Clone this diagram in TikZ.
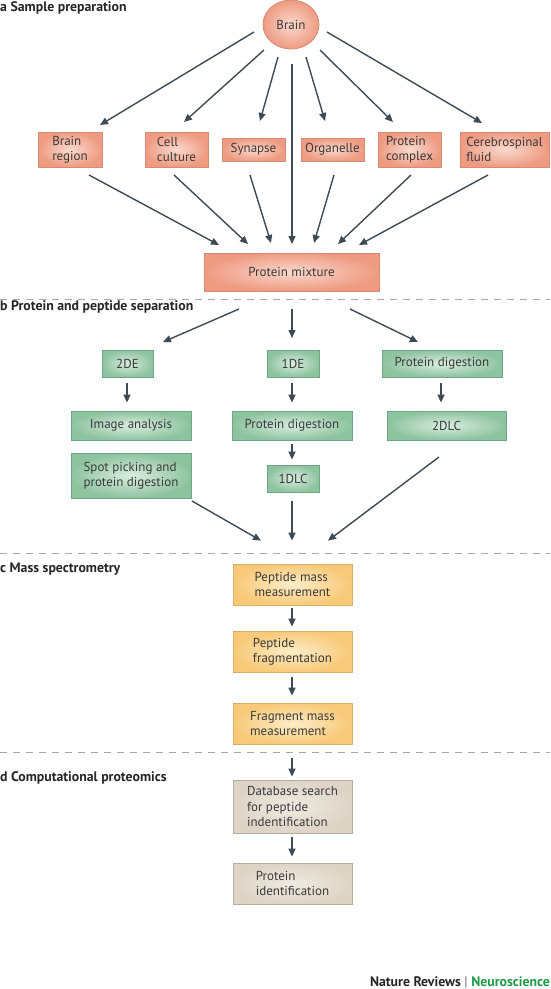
\documentclass[tikz,border=0pt]{standalone}
\usepackage{fontspec}
\setmainfont{PT Sans}
\usetikzlibrary{calc,arrows.meta,shapes.geometric}
\definecolor{arrc}{HTML}{3E4A54}
\definecolor{txtc}{HTML}{3A3A3A}
\definecolor{salO}{HTML}{EE9B82}
\definecolor{salI}{HTML}{FAD9CC}
\definecolor{salB}{HTML}{D88A72}
\definecolor{grnO}{HTML}{8EC3A0}
\definecolor{grnI}{HTML}{D8EDDF}
\definecolor{grnB}{HTML}{6FA585}
\definecolor{ylwO}{HTML}{F8C978}
\definecolor{ylwI}{HTML}{FDEDC8}
\definecolor{ylwB}{HTML}{D8AE68}
\definecolor{gryO}{HTML}{DDD4C6}
\definecolor{gryI}{HTML}{EFEAE2}
\definecolor{gryB}{HTML}{B5ACA0}
\definecolor{dashc}{HTML}{A8A8A8}
\definecolor{nrgreen}{HTML}{1E9B4A}
\tikzset{
  x=1pt,y=-1pt,
  box/.style={rectangle,inner sep=0pt,align=left,text=txtc,
    font=\fontsize{13}{15.3}\selectfont,line width=0.8pt},
  salbox/.style={box,draw=salB,shading=radial,inner color=salI,outer color=salO},
  grnbox/.style={box,draw=grnB,shading=radial,inner color=grnI,outer color=grnO},
  ylwbox/.style={box,draw=ylwB,shading=radial,inner color=ylwI,outer color=ylwO},
  grybox/.style={box,draw=gryB,shading=radial,inner color=gryI,outer color=gryO},
  arr/.style={draw=arrc,line width=1.4pt,-{Triangle[length=8pt,width=7pt]}},
  sep/.style={draw=dashc,line width=0.8pt,dash pattern=on 7pt off 6pt},
  ttl/.style={anchor=west,inner sep=0pt,text=black!85,font=\fontsize{13.8}{16}\selectfont\bfseries},
}
\begin{document}
\begin{tikzpicture}
\useasboundingbox (0,0) rectangle (550,989);
% separators
\coordinate (s1l) at (0,299); \coordinate (s1r) at (550,299);
\coordinate (s2l) at (0,553); \coordinate (s2r) at (550,553);
\coordinate (s3l) at (0,752); \coordinate (s3r) at (550,752);
\draw[sep] (s1l) -- (s1r);
\draw[sep] (s2l) -- (s2r);
\draw[sep] (s3l) -- (s3r);
% titles
\node[ttl] (ta) at (0,7.5) {a Sample preparation};
\node[ttl] (tb) at (0,307) {b Protein and peptide separation};
\node[ttl] (tc) at (0,569) {c Mass spectrometry};
\node[ttl] (td) at (0,778) {d Computational proteomics};
% section a
\node[salbox,ellipse,minimum width=56pt,minimum height=49pt] (brain) at (291,24.5) {Brain};
\node[salbox,minimum width=64pt,minimum height=35pt] (bregion) at (70,149.5) {Brain\\region};
\node[salbox,minimum width=63pt,minimum height=35pt] (cellc) at (176.5,149.5) {Cell\\culture};
\node[salbox,minimum width=63pt,minimum height=23pt] (syn) at (253.5,149.5) {Synapse};
\node[salbox,minimum width=63pt,minimum height=23pt] (org) at (332.5,149.5) {Organelle};
\node[salbox,minimum width=63pt,minimum height=35pt] (pcomp) at (409.5,149.5) {Protein\\complex};
\node[salbox,minimum width=89pt,minimum height=35pt] (csf) at (504.5,149.5) {Cerebrospinal\\fluid};
\node[salbox,minimum width=175pt,minimum height=38pt] (pmix) at (291.5,272) {Protein mixture};
\draw[arr] ($(brain)+(-37,7.5)$) -- ($(bregion)+(30,-24.5)$);
\draw[arr] ($(brain)+(-27,25.5)$) -- ($(cellc)+(7.5,-27.5)$);
\draw[arr] ($(brain)+(-13,32.5)$) -- ($(syn)+(6.5,-28.5)$);
\draw[arr] ($(brain)+(1,39.5)$) -- ($(pmix)+(0.5,-28)$);
\draw[arr] ($(brain)+(15,32.5)$) -- ($(org)+(-7.5,-28.5)$);
\draw[arr] ($(brain)+(29,25.5)$) -- ($(pcomp)+(-16.5,-27.5)$);
\draw[arr] ($(brain)+(36,7.5)$) -- ($(csf)+(-22.5,-26.5)$);
\draw[arr] ($(bregion)+(19,25.5)$) -- ($(pmix)+(-72.5,-27)$);
\draw[arr] ($(cellc)+(-2.5,25.5)$) -- ($(pmix)+(-43.5,-28)$);
\draw[arr] ($(syn)+(-3.5,25.5)$) -- ($(pmix)+(-20.5,-29)$);
\draw[arr] ($(org)+(1.5,25.5)$) -- ($(pmix)+(22.5,-29)$);
\draw[arr] ($(pcomp)+(1.5,25.5)$) -- ($(pmix)+(46.5,-28)$);
\draw[arr] ($(csf)+(-16.5,25.5)$) -- ($(pmix)+(67.5,-27)$);
% section b
\node[grnbox,minimum width=51pt,minimum height=27pt] (de2) at (127.5,363.5) {2DE};
\node[grnbox,minimum width=52pt,minimum height=27pt] (de1) at (293,363.5) {1DE};
\node[grnbox,minimum width=120pt,minimum height=27pt] (pdig1) at (442,363.5) {Protein digestion};
\node[grnbox,minimum width=120pt,minimum height=29pt] (imgan) at (131,425.5) {Image analysis};
\node[grnbox,minimum width=120pt,minimum height=29pt] (pdig2) at (292,425.5) {Protein digestion};
\node[grnbox,minimum width=119pt,minimum height=29pt] (dlc2) at (446.5,425.5) {2DLC};
\node[grnbox,minimum width=120pt,minimum height=45pt] (spot) at (131,475.5) {Spot picking and\\protein digestion};
\node[grnbox,minimum width=52pt,minimum height=27pt] (dlc1) at (293,478.5) {1DLC};
\draw[arr] ($(pmix)+(-52.5,37)$) -- ($(de2)+(35.5,-21.5)$);
\draw[arr] ($(pmix)+(0.5,37)$) -- ($(de1)+(-1,-25.5)$);
\draw[arr] ($(pmix)+(58.5,37)$) -- ($(pdig1)+(-24,-21.5)$);
\draw[arr] ($(de2.south)+(-0.5,6)$) -- ($(de2.south |- imgan.north)+(-0.5,-8)$);
\draw[arr] ($(de1.south)+(-1,6)$) -- ($(de1.south |- pdig2.north)+(-1,-8)$);
\draw[arr] ($(pdig1.south)+(-1,6)$) -- ($(pdig1.south |- dlc2.north)+(-1,-8)$);
\draw[arr] ($(pdig2.south)+(0,4)$) -- ($(pdig2.south |- dlc1.north)+(0,-5)$);
% section c
\node[ylwbox,minimum width=119pt,minimum height=41pt] (pmm) at (292.5,584.5) {Peptide mass\\measurement};
\node[ylwbox,minimum width=119pt,minimum height=41pt] (pfrag) at (292.5,651.5) {Peptide\\fragmentation};
\node[ylwbox,minimum width=119pt,minimum height=41pt] (fmm) at (292.5,723.5) {Fragment mass\\measurement};
\draw[arr] ($(spot)+(61,25.5)$) -- ($(pmm.north)+(-31.5,-23)$);
\draw[arr] ($(dlc1)+(-1,22.5)$) -- ($(pmm.north)+(-0.5,-23)$);
\draw[arr] ($(dlc2)+(-7.5,31.5)$) -- ($(pmm.north)+(35.5,-23)$);
\draw[arr] ($(pmm.south)+(-0.5,3)$) -- ($(pfrag.north)+(-0.5,-4)$);
\draw[arr] ($(pfrag.south)+(-0.5,5)$) -- ($(fmm.north)+(-0.5,-7)$);
% section d
\node[grybox,minimum width=119pt,minimum height=53pt] (db) at (292.5,806.5) {Database search\\for peptide\\indentification};
\node[grybox,minimum width=119pt,minimum height=41pt] (pid) at (292.5,883.5) {Protein\\identification};
\draw[arr] ($(fmm.south)+(-0.5,14)$) -- ($(db.north)+(-0.5,-3)$);
\draw[arr] ($(db.south)+(-0.5,4)$) -- ($(pid.north)+(-0.5,-6)$);
% footer
\node[anchor=east,inner sep=0pt,font=\fontsize{13.8}{16}\selectfont\bfseries] (foot) at (550,982)
  {\textcolor{black!85}{Nature Reviews} \textcolor{black!60}{\fontseries{m}\selectfont|} \textcolor{nrgreen}{Neuroscience}};
\end{tikzpicture}
\end{document}
